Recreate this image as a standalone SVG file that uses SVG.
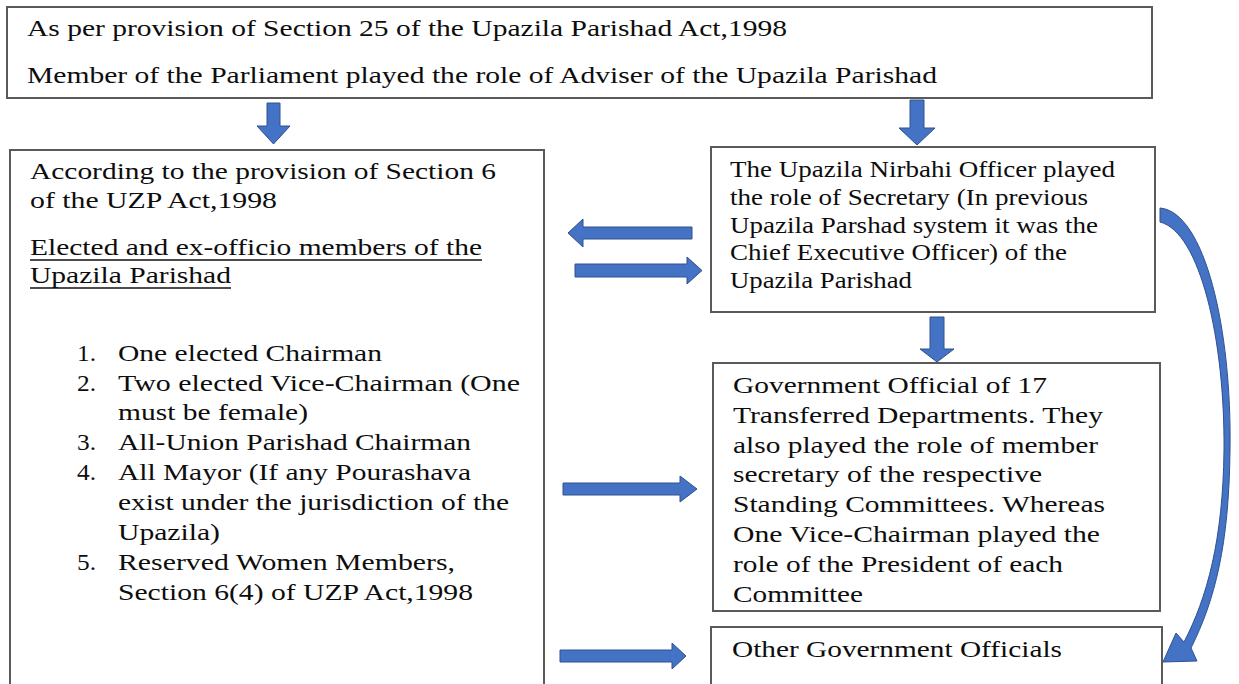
<svg xmlns="http://www.w3.org/2000/svg" width="1239" height="684" viewBox="0 0 1239 684">
<defs>
<style>
.box{fill:#ffffff;stroke:#5a5a5a;stroke-width:2}
.t{font-family:"Liberation Serif","Times New Roman",serif;font-size:23px;fill:#0d0d0d}
.arr{fill:#4472C4;stroke:#2F528F;stroke-width:1}
.ul{stroke:#111111;stroke-width:1.3}
</style>
</defs>
<rect x="0" y="0" width="1239" height="684" fill="#ffffff"/>

<g id="node-top">
<rect class="box" x="7" y="7" width="1145" height="91"/>
<g transform="scale(1.28,1)">
<text class="t" x="21.09" y="36" textLength="593.75" lengthAdjust="spacingAndGlyphs">As per provision of Section 25 of the Upazila Parishad Act,1998</text>
<text class="t" x="21.09" y="83" textLength="710.94" lengthAdjust="spacingAndGlyphs">Member of the Parliament played the role of Adviser of the Upazila Parishad</text>
</g>
</g>

<g id="node-members">
<rect class="box" x="10" y="150" width="534" height="545"/>
<line class="ul" x1="30" y1="260" x2="482" y2="260"/>
<line class="ul" x1="30" y1="288" x2="231" y2="288"/>
<g transform="scale(1.28,1)">
<text class="t" x="23.44" y="179" textLength="364.06" lengthAdjust="spacingAndGlyphs">According to the provision of Section 6</text>
<text class="t" x="23.44" y="208" textLength="192.97" lengthAdjust="spacingAndGlyphs">of the UZP Act,1998</text>
<text class="t" x="23.44" y="255" textLength="353.13" lengthAdjust="spacingAndGlyphs">Elected and ex-officio members of the</text>
<text class="t" x="23.44" y="283" textLength="157.03" lengthAdjust="spacingAndGlyphs">Upazila Parishad</text>
<text class="t" x="60.16" y="361" textLength="14.84" lengthAdjust="spacingAndGlyphs">1.</text>
<text class="t" x="92.19" y="361" textLength="206.25" lengthAdjust="spacingAndGlyphs">One elected Chairman</text>
<text class="t" x="60.16" y="391" textLength="14.84" lengthAdjust="spacingAndGlyphs">2.</text>
<text class="t" x="92.19" y="391" textLength="314.06" lengthAdjust="spacingAndGlyphs">Two elected Vice-Chairman (One</text>
<text class="t" x="92.19" y="420" textLength="148.44" lengthAdjust="spacingAndGlyphs">must be female)</text>
<text class="t" x="60.16" y="450" textLength="14.84" lengthAdjust="spacingAndGlyphs">3.</text>
<text class="t" x="92.19" y="450" textLength="275.78" lengthAdjust="spacingAndGlyphs">All-Union Parishad Chairman</text>
<text class="t" x="60.16" y="480" textLength="14.84" lengthAdjust="spacingAndGlyphs">4.</text>
<text class="t" x="92.19" y="480" textLength="275.78" lengthAdjust="spacingAndGlyphs">All Mayor (If any Pourashava</text>
<text class="t" x="92.19" y="510" textLength="305.47" lengthAdjust="spacingAndGlyphs">exist under the jurisdiction of the</text>
<text class="t" x="92.19" y="540" textLength="79.69" lengthAdjust="spacingAndGlyphs">Upazila)</text>
<text class="t" x="60.16" y="570" textLength="14.84" lengthAdjust="spacingAndGlyphs">5.</text>
<text class="t" x="92.19" y="570" textLength="263.28" lengthAdjust="spacingAndGlyphs">Reserved Women Members,</text>
<text class="t" x="92.19" y="600" textLength="277.34" lengthAdjust="spacingAndGlyphs">Section 6(4) of UZP Act,1998</text>
</g>
</g>

<g id="node-uno">
<rect class="box" x="711" y="147" width="444" height="165"/>
<g transform="scale(1.28,1)">
<text class="t" x="570.31" y="177" textLength="300.78" lengthAdjust="spacingAndGlyphs">The Upazila Nirbahi Officer played</text>
<text class="t" x="570.31" y="205" textLength="279.69" lengthAdjust="spacingAndGlyphs">the role of Secretary (In previous</text>
<text class="t" x="570.31" y="233" textLength="287.5" lengthAdjust="spacingAndGlyphs">Upazila Parshad system it was the</text>
<text class="t" x="570.31" y="260" textLength="263.28" lengthAdjust="spacingAndGlyphs">Chief Executive Officer) of the</text>
<text class="t" x="570.31" y="288" textLength="142.19" lengthAdjust="spacingAndGlyphs">Upazila Parishad</text>
</g>
</g>

<g id="node-officials17">
<rect class="box" x="713" y="363" width="447" height="248"/>
<g transform="scale(1.28,1)">
<text class="t" x="572.66" y="393" textLength="245.31" lengthAdjust="spacingAndGlyphs">Government Official of 17</text>
<text class="t" x="572.66" y="423" textLength="289.06" lengthAdjust="spacingAndGlyphs">Transferred Departments. They</text>
<text class="t" x="572.66" y="453" textLength="285.16" lengthAdjust="spacingAndGlyphs">also played the role of member</text>
<text class="t" x="572.66" y="482" textLength="241.41" lengthAdjust="spacingAndGlyphs">secretary of the respective</text>
<text class="t" x="572.66" y="512" textLength="290.63" lengthAdjust="spacingAndGlyphs">Standing Committees. Whereas</text>
<text class="t" x="572.66" y="542" textLength="286.72" lengthAdjust="spacingAndGlyphs">One Vice-Chairman played the</text>
<text class="t" x="572.66" y="572" textLength="257.81" lengthAdjust="spacingAndGlyphs">role of the President of each</text>
<text class="t" x="572.66" y="602" textLength="101.56" lengthAdjust="spacingAndGlyphs">Committee</text>
</g>
</g>

<g id="node-other">
<rect class="box" x="711" y="627" width="451" height="70"/>
<g transform="scale(1.28,1)">
<text class="t" x="571.88" y="657" textLength="257.81" lengthAdjust="spacingAndGlyphs">Other Government Officials</text>
</g>
</g>

<g id="connectors">
<polygon class="arr" points="267,103 280,103 280,126 290,126 273.5,144 257,126 267,126"/>
<polygon class="arr" points="910,100 924,100 924,128 935,128 917,145 899,128 910,128"/>
<polygon class="arr" points="930,317 944,317 944,349 954,349 937,362 920,349 930,349"/>
<polygon class="arr" points="692,227 583,227 583,219 568,233 583,247 583,239 692,239"/>
<polygon class="arr" points="575,264 687,264 687,257 702,270.5 687,284 687,277 575,277"/>
<polygon class="arr" points="563,483 680,483 680,476 697,489 680,502 680,495 563,495"/>
<polygon class="arr" points="560,650 672,650 672,643 686,656 672,669 672,662 560,662"/>
<path class="arr" d="M1160,208 C1205,212 1232,330 1230,450 C1229,545 1215,600 1191,648 L1197,661 L1163,662 L1176,633 L1184,642 C1207,598 1223,540 1224,450 C1225,340 1200,232 1160,222 Z"/>
</g>
</svg>
